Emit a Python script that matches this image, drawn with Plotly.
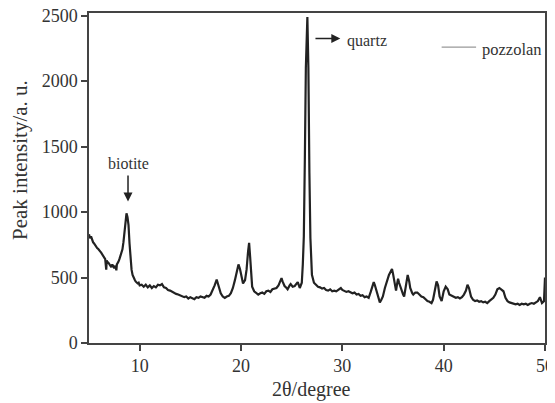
import plotly.graph_objects as go

two_theta = [
    5.0, 5.1, 5.2, 5.3, 5.4, 5.5, 5.6, 5.7, 5.8, 5.9, 6.0, 6.1, 6.2, 6.3, 6.4, 6.5, 6.6, 6.7, 6.75, 6.8,
    6.9, 7.0, 7.1, 7.2, 7.3, 7.4, 7.5, 7.6, 7.7, 7.75, 7.8, 7.9, 8.0, 8.1, 8.2, 8.3, 8.4, 8.5, 8.6, 8.7,
    8.8, 8.9, 9.0, 9.1, 9.2, 9.3, 9.4, 9.5, 9.6, 9.7, 9.8, 9.9, 10.0, 10.2, 10.4, 10.6, 10.8, 11.0, 11.2, 11.4,
    11.6, 11.8, 12.0, 12.2, 12.4, 12.6, 12.8, 13.0, 13.2, 13.4, 13.6, 13.8, 14.0, 14.2, 14.4, 14.6, 14.8, 15.0, 15.2, 15.4,
    15.6, 15.8, 16.0, 16.2, 16.4, 16.6, 16.8, 17.0, 17.2, 17.4, 17.6, 17.8, 18.0, 18.2, 18.4, 18.6, 18.8, 19.0, 19.2, 19.4,
    19.6, 19.75, 19.9, 20.0, 20.2, 20.4, 20.55, 20.7, 20.8, 20.9, 21.0, 21.1, 21.3, 21.5, 21.7, 21.9, 22.1, 22.3, 22.5, 22.7,
    22.9, 23.1, 23.3, 23.5, 23.7, 23.9, 24.0, 24.1, 24.3, 24.5, 24.6, 24.8, 24.9, 25.1, 25.3, 25.5, 25.6, 25.8, 26.0, 26.1,
    26.2, 26.3, 26.4, 26.55, 26.65, 26.75, 26.85, 27.0, 27.2, 27.4, 27.6, 27.8, 28.0, 28.2, 28.4, 28.6, 28.8, 29.0, 29.2, 29.4,
    29.6, 29.85, 30.0, 30.2, 30.4, 30.6, 30.8, 31.0, 31.2, 31.4, 31.6, 31.8, 32.0, 32.2, 32.4, 32.6, 32.8, 33.0, 33.1, 33.2,
    33.4, 33.6, 33.7, 33.85, 34.0, 34.2, 34.4, 34.6, 34.8, 34.9, 35.0, 35.1, 35.3, 35.4, 35.5, 35.6, 35.8, 36.0, 36.1, 36.3,
    36.45, 36.6, 36.7, 36.9, 37.0, 37.2, 37.4, 37.6, 37.8, 38.0, 38.2, 38.4, 38.6, 38.8, 38.95, 39.1, 39.3, 39.45, 39.6, 39.8,
    40.0, 40.2, 40.4, 40.56, 40.8, 41.0, 41.2, 41.4, 41.6, 41.8, 42.0, 42.2, 42.35, 42.5, 42.7, 42.9, 43.1, 43.3, 43.5, 43.7,
    43.9, 44.1, 44.3, 44.5, 44.7, 44.9, 45.1, 45.3, 45.5, 45.7, 45.9, 46.1, 46.3, 46.5, 46.7, 46.9, 47.1, 47.3, 47.5, 47.7,
    47.9, 48.1, 48.3, 48.5, 48.7, 48.9, 49.1, 49.3, 49.5, 49.7, 49.9, 50.0,
]

intensity = [
    830, 800, 815, 780, 770, 760, 745, 735, 725, 720, 705, 700, 690, 675, 665, 650, 640, 560, 630, 620,
    615, 600, 595, 580, 600, 585, 570, 590, 555, 600, 605, 620, 640, 660, 690, 715, 770, 830, 920, 990,
    960, 900, 760, 640, 560, 520, 495, 485, 470, 465, 455, 460, 440, 445, 430, 445, 425, 440, 420, 435,
    425, 445, 440, 450, 425, 420, 405, 400, 390, 385, 375, 370, 365, 360, 350, 355, 340, 350, 345, 335,
    350, 345, 355, 350, 345, 360, 355, 370, 400, 440, 485, 440, 380, 355, 345, 355, 360, 380, 420, 480,
    560, 600, 565, 520, 455, 480, 560, 700, 765, 660, 500, 430, 395, 385, 370, 380, 385, 375, 395, 400,
    390, 410, 415, 420, 440, 470, 495, 470, 435, 420, 410, 440, 450, 430, 435, 455, 465, 420, 460, 600,
    815, 1400, 2100, 2490, 2100, 1300, 800, 520, 460, 445, 430, 425, 415, 420, 405, 400, 410, 395, 400, 395,
    405, 420, 405, 395, 390, 395, 385, 380, 385, 370, 375, 360, 365, 350, 355, 345, 390, 440, 465, 445,
    385, 330, 310, 330, 355, 420, 470, 520, 550, 565, 530, 485, 400, 450, 490, 460, 410, 370, 355, 460,
    520, 470, 420, 380, 370, 385, 385, 370, 355, 350, 335, 320, 315, 305, 330, 385, 470, 440, 355, 320,
    395, 430, 410, 370, 360, 355, 345, 350, 340, 350, 370, 400, 445, 420, 355, 330, 320, 325, 315, 320,
    310, 315, 305, 320, 330, 345, 370, 410, 420, 410, 395, 345, 320, 310, 305, 300, 295, 300, 290, 300,
    295, 300, 290, 300, 305, 300, 310, 320, 350, 305, 320, 500,
]

x_ticks = [10, 20, 30, 40, 50]
y_ticks = [0, 500, 1000, 1500, 2000, 2500]
series_name = "pozzolan"
x_title = "2θ/degree"
y_title = "Peak intensity/a. u."

serif = "Liberation Serif, Times New Roman, serif"

fig = go.Figure()
fig.add_trace(go.Scatter(
    x=two_theta, y=intensity, mode="lines", name=series_name,
    line=dict(color="#222222", width=2.2), showlegend=False,
))

axis_common = dict(
    showline=True, linecolor="#444", linewidth=1.5, mirror=True,
    ticks="outside", ticklen=6, tickwidth=1.5, tickcolor="#444",
    showgrid=False, zeroline=False, ticklabeloverflow="allow", automargin=False,
    tickfont=dict(family=serif, size=18, color="#333"),
)

# the page body adds an 8px offset; margins are set so the plot lands where the reference has it
fig.update_layout(
    width=555, height=403,
    margin=dict(l=81, r=18, t=5, b=68),
    paper_bgcolor="white", plot_bgcolor="white",
    xaxis=dict(range=[5, 50], tickvals=x_ticks, **axis_common),
    yaxis=dict(range=[0, 2520], tickvals=y_ticks, **axis_common),
    font=dict(family=serif, color="#333"),
)

# axis titles
fig.add_annotation(text=x_title, xref="paper", yref="paper", x=0.489, y=-0.142,
                   showarrow=False, font=dict(family=serif, size=20, color="#333"),
                   xanchor="center", yanchor="middle")
fig.add_annotation(text=y_title, xref="paper", yref="paper", x=-0.151, y=0.555,
                   showarrow=False, textangle=-90, font=dict(family=serif, size=21, color="#333"),
                   xanchor="center", yanchor="middle")

# biotite label with down arrow
fig.add_annotation(text="biotite", x=8.85, y=1370, xref="x", yref="y", showarrow=False,
                   font=dict(family=serif, size=16, color="#333"))
fig.add_annotation(x=8.85, y=1080, ax=8.85, ay=1290, xref="x", yref="y", axref="x", ayref="y",
                   text="", showarrow=True, arrowhead=2, arrowsize=1.2, arrowwidth=1.5, arrowcolor="#222")

# quartz label with right arrow
fig.add_annotation(x=29.8, y=2325, ax=27.2, ay=2325, xref="x", yref="y", axref="x", ayref="y",
                   text="", showarrow=True, arrowhead=2, arrowsize=1.2, arrowwidth=1.5, arrowcolor="#222")
fig.add_annotation(text="quartz", x=30.3, y=2310, xref="x", yref="y", showarrow=False, xanchor="left",
                   font=dict(family=serif, size=16, color="#333"))

# legend sample
fig.add_shape(type="line", xref="x", yref="y", x0=39.8, x1=43.2, y0=2260, y1=2260,
              line=dict(color="#999", width=1.2))
fig.add_annotation(text=series_name, x=43.6, y=2245, xref="x", yref="y", showarrow=False, xanchor="left",
                   font=dict(family=serif, size=16.5, color="#333"))

fig.write_html("out.html")
